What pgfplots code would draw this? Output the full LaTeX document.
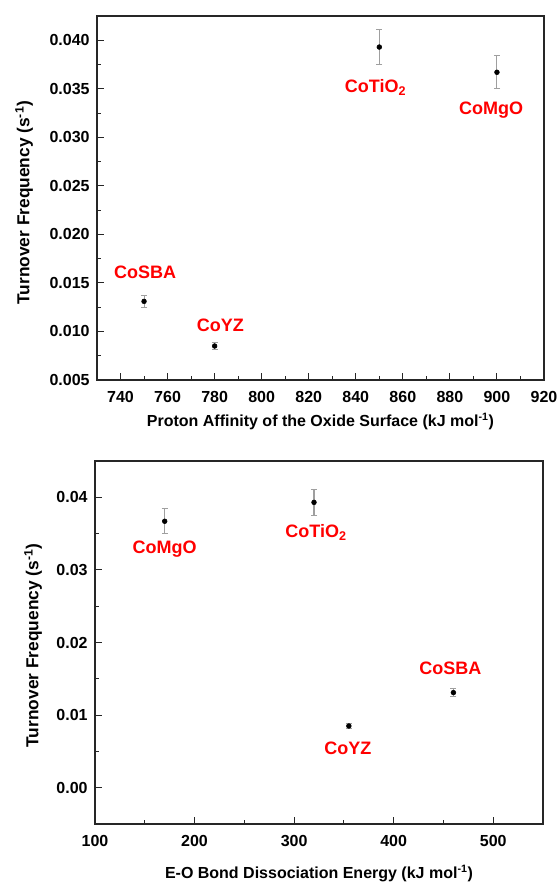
\documentclass[border=0pt]{standalone}
\usepackage{pgfplots}
\pgfplotsset{compat=1.18}
\usepackage{fontspec}
\setmainfont{Liberation Sans}
\tikzset{lab/.style={text=red, font=\fontsize{13.5}{15}\selectfont\bfseries}}
\begin{document}
\begin{tikzpicture}
\path[use as bounding box] (0pt,0pt) rectangle (420pt,662.25pt);
\pgfplotsset{
  myaxis/.style={
    scale only axis,
    anchor=south west,
    axis line style={line width=0.9pt, black!85},
    tick align=inside,
    xtick pos=bottom, ytick pos=left,
    major tick length=5pt, minor tick length=3pt,
    every tick/.style={line width=0.8pt, black!85},
    /pgf/number format/assume math mode=true,
    tick label style={font=\fontsize{12}{14}\selectfont\bfseries},
    xticklabel style={yshift=-5pt},
    label style={font=\fontsize{13}{15}\selectfont\bfseries},
    scaled y ticks=false,
    error bars/y dir=both, error bars/y explicit,
    error bars/error bar style={gray!75, line width=0.8pt},
    error bars/error mark options={rotate=90, gray!75, mark size=2.3pt, line width=0.8pt},
  },
}
\begin{axis}[myaxis, at={(72.75pt,377.25pt)}, width=335.25pt, height=273pt,
  xmin=730, xmax=920, ymin=0.005, ymax=0.0425,
  xtick={740,760,...,920}, minor x tick num=1,
  ytick={0.005,0.010,...,0.0401}, minor y tick num=1,
  yticklabel style={xshift=-2pt, /pgf/number format/fixed, /pgf/number format/fixed zerofill, /pgf/number format/precision=3},
  xlabel={Proton Affinity of the Oxide Surface (kJ mol\textsuperscript{-1})},
  ylabel={Turnover Frequency (s\textsuperscript{-1})},
  xlabel style={yshift=-0.75pt, font=\fontsize{12}{14}\selectfont\bfseries},
  ylabel style={yshift=5.5pt, xshift=-3.5pt},
]
\addplot[only marks, mark=*, mark size=1.8pt, black] coordinates {
  (750,0.0131) +- (0,0.0006)
  (780,0.0085) +- (0,0.0004)
  (850,0.0393) +- (0,0.0018)
  (900,0.0367) +- (0,0.0017)
};
\node[lab] at (axis cs:750.5,0.0161) {CoSBA};
\node[lab] at (axis cs:782.4,0.0106) {CoYZ};
\node[lab] at (axis cs:848.4,0.0351) {CoTiO\textsubscript{2}};
\node[lab] at (axis cs:897.5,0.0328) {CoMgO};
\end{axis}
\begin{axis}[myaxis, at={(71.25pt,44.25pt)}, width=336pt, height=272.25pt,
  xmin=100, xmax=550, ymin=-0.005, ymax=0.045,
  xtick={100,200,...,500}, minor x tick num=1,
  ytick={0,0.01,...,0.0401}, minor y tick num=1,
  yticklabel style={xshift=-2pt, /pgf/number format/fixed, /pgf/number format/fixed zerofill, /pgf/number format/precision=2},
  xlabel={E-O Bond Dissociation Energy (kJ mol\textsuperscript{-1})},
  ylabel={Turnover Frequency (s\textsuperscript{-1})},
  xlabel style={yshift=-6.75pt, font=\fontsize{12}{14}\selectfont\bfseries},
  ylabel style={yshift=4pt, xshift=-2.25pt},
]
\addplot[only marks, mark=*, mark size=1.8pt, black] coordinates {
  (170,0.0367) +- (0,0.0017)
  (320,0.0393) +- (0,0.0018)
  (355,0.0085) +- (0,0.0003)
  (460,0.0131) +- (0,0.0005)
};
\node[lab] at (axis cs:170,0.0328) {CoMgO};
\node[lab] at (axis cs:322,0.0351) {CoTiO\textsubscript{2}};
\node[lab] at (axis cs:354,0.0054) {CoYZ};
\node[lab] at (axis cs:457,0.0165) {CoSBA};
\end{axis}
\end{tikzpicture}
\end{document}
